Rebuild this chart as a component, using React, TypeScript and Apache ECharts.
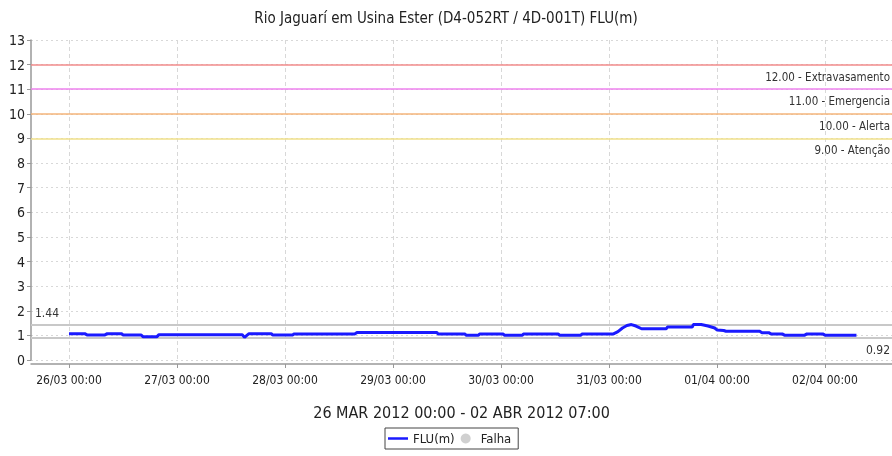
import React, { useEffect, useRef } from "react";
import * as echarts from "echarts";

const chartTitle = "Rio Jaguarí em Usina Ester (D4-052RT / 4D-001T) FLU(m)";
const periodLabel = "26 MAR 2012 00:00 - 02 ABR 2012 07:00";
const seriesName = "FLU(m)";
const failName = "Falha";

// day tick labels (26/03 .. 02/04)
const tickLabels = ["26/03 00:00", "27/03 00:00", "28/03 00:00", "29/03 00:00", "30/03 00:00", "31/03 00:00", "01/04 00:00", "02/04 00:00"];
const dayKeys = ["26/03", "27/03", "28/03", "29/03", "30/03", "31/03", "01/04", "02/04"];

// readings (dd/MM HH:mm) and level values (m)
const times = [
  "26/03 00:00", "26/03 03:30", "26/03 04:00", "26/03 08:00", "26/03 08:30", "26/03 11:45",
  "26/03 12:00", "26/03 16:00", "26/03 16:30", "26/03 19:30", "26/03 20:00", "27/03 14:30",
  "27/03 15:00", "27/03 16:00", "27/03 21:00", "27/03 21:15", "28/03 01:45", "28/03 02:00",
  "28/03 15:30", "28/03 16:00", "29/03 09:45", "29/03 10:00", "29/03 16:00", "29/03 16:15",
  "29/03 19:00", "29/03 19:15", "30/03 00:30", "30/03 00:45", "30/03 04:45", "30/03 05:00",
  "30/03 12:45", "30/03 13:00", "30/03 17:45", "30/03 18:00", "31/03 01:00", "31/03 02:00",
  "31/03 03:00", "31/03 04:00", "31/03 05:00", "31/03 06:00", "31/03 07:15", "31/03 12:45",
  "31/03 13:00", "31/03 18:30", "31/03 18:45", "31/03 20:30", "31/03 22:00", "31/03 23:30",
  "01/04 00:00", "01/04 01:30", "01/04 02:00", "01/04 09:30", "01/04 10:00", "01/04 11:30",
  "01/04 12:00", "01/04 14:30", "01/04 15:00", "01/04 19:30", "01/04 20:00", "01/04 23:30",
  "02/04 00:00", "02/04 07:00",
];
const values = [
  1.07, 1.07, 1.02, 1.02, 1.07, 1.07,
  1.02, 1.02, 0.94, 0.94, 1.03, 1.03,
  0.92, 1.07, 1.07, 1.02, 1.02, 1.06,
  1.06, 1.12, 1.12, 1.06, 1.06, 1.01,
  1.01, 1.06, 1.06, 1.01, 1.01, 1.06,
  1.06, 1.01, 1.01, 1.06, 1.06, 1.15,
  1.30, 1.40, 1.44, 1.38, 1.27, 1.27,
  1.34, 1.34, 1.44, 1.44, 1.38, 1.30,
  1.22, 1.20, 1.17, 1.17, 1.11, 1.11,
  1.06, 1.06, 1.01, 1.01, 1.06, 1.06,
  1.01, 1.01,
];

// threshold lines
const thresholdValues = [12, 11, 10, 9];
const thresholdNames = ["Extravasamento", "Emergencia", "Alerta", "Atenção"];
const thresholdColors = ["#f28b8b", "#ee82ee", "#f5b57a", "#f0e08a"];

const maxValue = 1.44;
const minValue = 0.92;

const FONT = "'DejaVu Sans Condensed', 'Liberation Sans Narrow', 'DejaVu Sans', sans-serif";

function toHours(t: string): number {
  const [d, hm] = t.split(" ");
  const di = dayKeys.indexOf(d);
  const [h, m] = hm.split(":").map(Number);
  return di * 24 + h + m / 60;
}

export default function App() {
  const ref = useRef<HTMLDivElement>(null);
  useEffect(() => {
    if (!ref.current) return;
    const chart = echarts.init(ref.current, null, { renderer: "svg" });
    const data = times.map((t, i) => [toHours(t), values[i]]);
    const tickHours = tickLabels.map((_, i) => i * 24);

    const markData: any[] = thresholdValues.map((v, i) => ({
      yAxis: v,
      lineStyle: { color: thresholdColors[i], width: 1.5, type: "solid" },
      label: {
        show: true,
        position: "insideEndBottom",
        formatter: v.toFixed(2) + " - " + thresholdNames[i],
        color: "#333",
        fontSize: 11.5,
        fontFamily: FONT,
        distance: [2, 6],
      },
    }));
    markData.push({
      yAxis: maxValue,
      lineStyle: { color: "#c8c8c8", width: 2, type: "solid" },
      label: { show: true, position: "insideStartTop", formatter: maxValue.toFixed(2), color: "#333", fontSize: 12, fontFamily: FONT, distance: [4, 6] },
    });
    markData.push({
      yAxis: minValue,
      lineStyle: { color: "#c8c8c8", width: 2, type: "solid" },
      label: { show: true, position: "insideEndBottom", formatter: minValue.toFixed(2), color: "#333", fontSize: 12, fontFamily: FONT, distance: [2, 7] },
    });

    chart.setOption({
      animation: false,
      textStyle: { fontFamily: FONT },
      title: {
        text: chartTitle,
        left: "center",
        top: 5,
        textStyle: { fontSize: 15, fontWeight: "normal", color: "#222", fontFamily: FONT },
      },
      legend: {
        left: 385,
        top: 428,
        padding: [4, 7, 4, 3],
        borderColor: "#444",
        borderWidth: 1,
        itemGap: 6,
        itemWidth: 20,
        itemHeight: 10,
        textStyle: { fontSize: 13, color: "#222", fontFamily: FONT },
        data: [
          { name: seriesName, icon: "path://M0 0 H20 V2.5 H0 Z" },
          { name: failName, icon: "circle" },
        ],
      },
      grid: { left: 31, right: 0, top: 40, bottom: 96 },
      xAxis: {
        type: "value",
        min: -8.44,
        max: 182.9,
        offset: 4,
        name: periodLabel,
        nameLocation: "middle",
        nameGap: 40,
        nameTextStyle: { fontSize: 16, color: "#222", fontFamily: FONT },
        axisLine: { show: true, onZero: false, lineStyle: { color: "#999", width: 1.5 } },
        axisTick: { show: true, length: 4, customValues: tickHours, lineStyle: { color: "#999" } },
        axisLabel: {
          customValues: tickHours,
          fontSize: 12,
          color: "#222",
          margin: 10,
          formatter: (v: number) => tickLabels[Math.round(v / 24)] ?? "",
        },
        splitLine: { show: true, lineStyle: { color: "#d8d8d8", type: [4, 3] } },
      },
      yAxis: {
        type: "value",
        min: 0,
        max: 13,
        interval: 1,
        axisLine: { show: true, onZero: false, lineStyle: { color: "#999", width: 1.5 } },
        axisTick: { show: true, length: 4, lineStyle: { color: "#999" } },
        axisLabel: { fontSize: 14, color: "#222", margin: 6 },
        splitLine: { show: true, lineStyle: { color: "#d8d8d8", type: [2, 3] } },
      },
      series: [
        {
          name: "limites",
          type: "line",
          data: [],
          z: 1,
          markLine: {
            silent: true,
            symbol: "none",
            data: markData,
          },
        },
        {
          name: seriesName,
          type: "line",
          data,
          symbol: "none",
          color: "#1a1aff",
          lineStyle: { color: "#1a1aff", width: 3 },
          z: 5,
        },
        {
          name: failName,
          type: "scatter",
          data: [],
          color: "#c4c4c4",
        },
      ],
    });
    return () => chart.dispose();
  }, []);
  return <div ref={ref} style={{ position: "fixed", left: 0, top: 0, width: 892, height: 456 }} />;
}
